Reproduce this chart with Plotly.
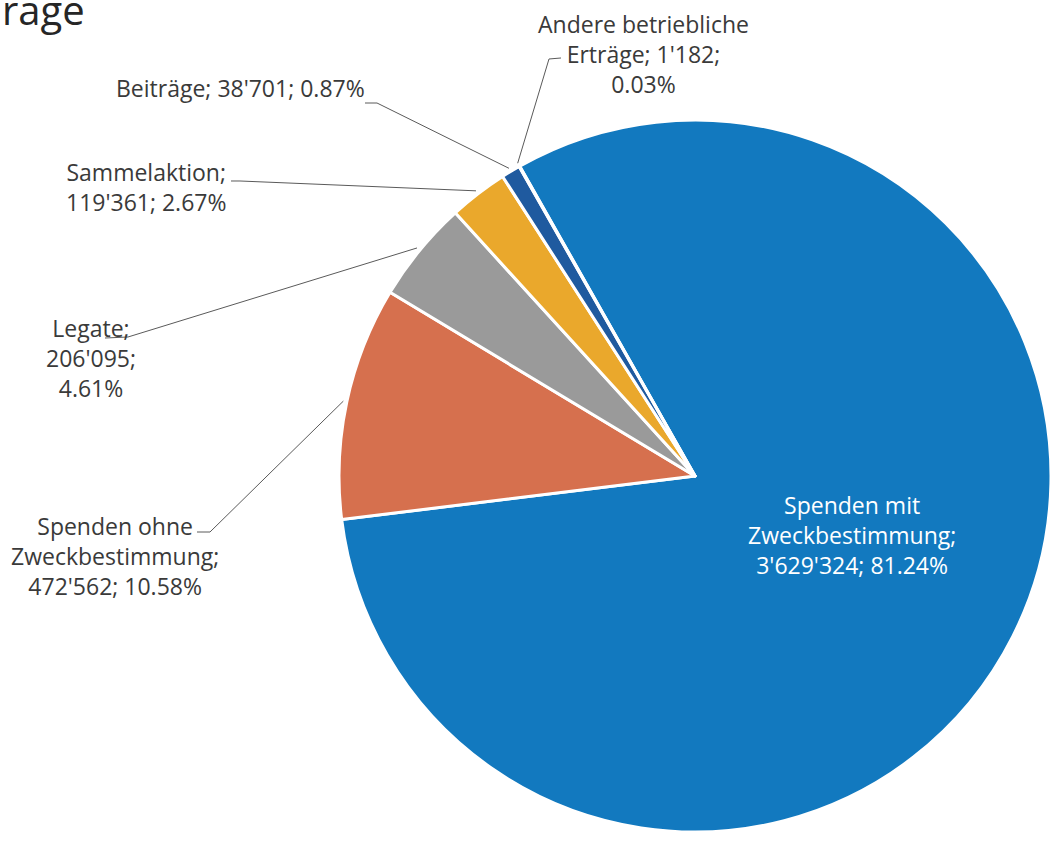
import math
import plotly.graph_objects as go

# ---- data ----
categories = [
    "Spenden mit Zweckbestimmung",
    "Spenden ohne Zweckbestimmung",
    "Legate",
    "Sammelaktion",
    "Beiträge",
    "Andere betriebliche Erträge",
]
values = [3629324, 472562, 206095, 119361, 38701, 1182]
colors = ["#1279bf", "#d6704e", "#9a9a9a", "#eaa82c", "#1f5a9f", "#5b9bd5"]
# how each label is wrapped in the reference
label_templates = [
    "Spenden mit<br>Zweckbestimmung;<br>{v}; {p}",
    "Spenden ohne<br>Zweckbestimmung;<br>{v}; {p}",
    "Legate;<br>{v};<br>{p}",
    "Sammelaktion;<br>{v}; {p}",
    "Beiträge; {v}; {p}",
    "Andere betriebliche<br>Erträge; {v};<br>{p}",
]
title_text = "rage"

# ---- layout constants (pixels) ----
W, H = 1054, 842
CX, CY, R = 695, 476, 356
ROTATION = -29.5
# label centres (px)
label_pos = [(852, 535), (115, 556), (91, 358), (146, 187), (240, 88), (643, 54)]
# leader line elbow points (px); None for inside label
leader_elbows = [
    None,
    [(197, 532), (210, 532)],
    [(105, 338), (128, 337)],
    [(231, 181), (240, 181)],
    [(365, 103), (377, 103)],
    [(561, 58), (549, 59)],
]


def px(x):
    return x / W


def py(y):
    return 1 - y / H


total = sum(values)


def fmt_v(v):
    return f"{v:,}".replace(",", "'")


def fmt_p(v):
    return f"{v / total * 100:.2f}%"


fig = go.Figure(
    go.Pie(
        labels=categories,
        values=values,
        sort=False,
        direction="clockwise",
        rotation=ROTATION,
        marker=dict(colors=colors, line=dict(color="white", width=3)),
        textinfo="none",
        hoverinfo="label+value+percent",
        domain=dict(x=[px(CX - R), px(CX + R)], y=[py(CY + R), py(CY - R)]),
        showlegend=False,
    )
)

annotations = []
shapes = []
cum = 0.0
for i, v in enumerate(values):
    mid = ROTATION + (cum + v / 2) / total * 360.0
    cum += v
    text = label_templates[i].format(v=fmt_v(v), p=fmt_p(v))
    lx, ly = label_pos[i]
    annotations.append(
        dict(
            x=px(lx), y=py(ly), xref="paper", yref="paper",
            text=text, showarrow=False, xanchor="center", yanchor="middle",
            align="center",
            font=dict(family="Open Sans", size=23,
                      color="white" if i == 0 else "#3a3a3a"),
        )
    )
    if leader_elbows[i] is not None:
        a = math.radians(mid)
        ex = CX + R * 1.01 * math.sin(a)
        ey = CY - R * 1.01 * math.cos(a)
        pts = leader_elbows[i] + [(ex, ey)]
        path = "M " + " L ".join(f"{px(x):.5f},{py(y):.5f}" for x, y in pts)
        shapes.append(
            dict(type="path", path=path, xref="paper", yref="paper",
                 line=dict(color="#5a5a5a", width=1))
        )

annotations.append(
    dict(
        x=0, y=py(39), xref="paper", yref="paper", text=title_text,
        showarrow=False, xanchor="left", yanchor="bottom",
        font=dict(family="Open Sans", size=40, color="#262626"),
    )
)

fig.update_layout(
    width=W, height=H,
    margin=dict(l=0, r=0, t=0, b=0),
    paper_bgcolor="white", plot_bgcolor="white",
    annotations=annotations, shapes=shapes,
)

fig.write_html(
    "out.html",
    config={"displayModeBar": False},
    post_script="document.body.style.margin='0';document.body.style.overflow='hidden';",
)
